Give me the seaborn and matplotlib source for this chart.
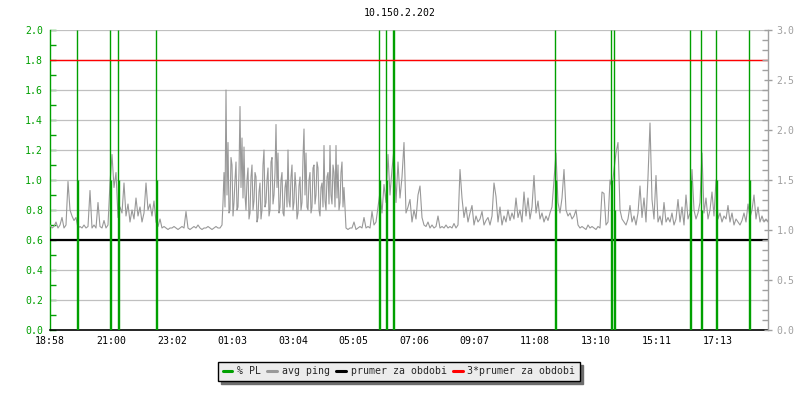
import numpy as np
import matplotlib
matplotlib.use("Agg")
import matplotlib.pyplot as plt
from matplotlib.lines import Line2D
from matplotlib.ticker import MultipleLocator, FormatStrFormatter
import seaborn as sns
import pandas as pd

# ---------------- data ----------------
title = "10.150.2.202"
tick_minutes = [0, 122, 244, 365, 486, 607, 728, 849, 970, 1092, 1213, 1335]
tick_labels = ["18:58", "21:00", "23:02", "01:03", "03:04", "05:05",
               "07:06", "09:07", "11:08", "13:10", "15:11", "17:13"]
x_end = 1436

# avg ping, evening part: one sample every 4 minutes from minute 0
ping_evening = [
    0.70, 0.68, 0.69, 0.72, 0.68, 0.70, 0.75, 0.68, 0.70, 0.99, 0.80, 0.76, 0.73, 0.75,
    0.68, 0.69, 0.68, 0.70, 0.68, 0.69, 0.93, 0.68, 0.70, 0.68, 0.85, 0.69, 0.68, 0.73, 0.68, 0.70,
    0.98, 1.17, 0.95, 1.05,
    0.75,
    0.82, 0.78, 0.98, 0.76, 0.84, 0.72, 0.80, 0.74, 0.88, 0.76, 0.82, 0.72, 0.78, 0.98, 0.80, 0.84, 0.76, 0.86,
    0.72, 0.69, 0.74, 0.68, 0.69, 0.68, 0.67, 0.68, 0.68, 0.69, 0.68, 0.67, 0.68, 0.69, 0.68, 0.79,
    0.68, 0.67, 0.68, 0.69, 0.68, 0.70, 0.68, 0.67, 0.68, 0.68, 0.69, 0.68, 0.67, 0.68, 0.69, 0.68, 0.68,
]
# busy night part: one sample every 2 minutes from minute 344
ping_busy = [
    0.70, 0.85, 1.05, 0.82, 1.60, 0.90, 1.25, 0.78, 0.80, 1.15, 1.10, 0.76, 0.85, 1.00, 1.12, 0.80,
    0.82, 1.05, 1.49, 0.95, 1.28, 0.88, 1.22, 0.90, 0.80, 1.00, 1.08, 0.74, 0.78, 1.02, 1.10, 0.80,
    0.86, 1.05, 1.02, 0.72, 0.75, 0.92, 0.98, 0.74, 0.80, 1.10, 1.20, 0.82, 0.85, 1.00, 1.08, 0.76,
    0.80, 1.12, 1.15, 0.84, 0.90, 1.05, 1.37, 0.95, 1.18, 0.78, 0.82, 1.00, 1.05, 0.78, 0.76, 0.95,
    1.00, 0.82, 1.20, 0.86, 0.82, 1.02, 1.10, 0.80, 0.85, 1.05, 0.95, 0.74, 0.78, 0.96, 1.02, 0.80,
    0.85, 1.15, 1.34, 0.90, 1.18, 0.82, 0.80, 1.00, 1.05, 0.78, 0.82, 1.08, 1.10, 0.84, 0.90, 1.12,
    1.08, 0.80, 0.76, 0.95, 0.98, 0.82, 1.23, 0.86, 0.80, 1.02, 1.05, 0.84, 1.23, 0.90, 0.84, 1.10,
    1.05, 0.82, 1.23, 0.88, 1.10, 0.80, 0.85, 1.05, 1.12, 0.82, 0.95,
]
# morning/day part: one sample every 4 minutes from minute 592
ping_day = [
    0.68, 0.67, 0.68, 0.68, 0.72, 0.67, 0.68, 0.69, 0.68, 0.75, 0.68, 0.69, 0.68, 0.79, 0.70, 0.72,
    0.82, 0.92, 0.78, 0.97, 0.85, 1.17, 0.90, 1.07, 1.21, 0.85, 1.12, 0.88, 1.02, 1.25, 0.78, 0.82,
    0.87, 0.72, 0.80, 0.74, 0.90, 0.96, 0.75, 0.70,
    0.69, 0.72, 0.68, 0.70, 0.68, 0.69, 0.76, 0.68, 0.69, 0.68, 0.70, 0.68, 0.69, 0.68, 0.71, 0.68,
    0.70, 1.07,
    0.88, 0.75, 0.82, 0.72, 0.78, 0.83, 0.70, 0.76, 0.72, 0.74, 0.79, 0.70, 0.73, 0.75, 0.70, 0.76,
    0.98, 0.89, 0.72, 0.82, 0.70, 0.76, 0.72, 0.80, 0.73, 0.78, 0.74, 0.88, 0.75, 0.80, 0.72, 0.92,
    0.76, 0.88, 0.74, 0.82, 1.03, 0.78, 0.86, 0.74, 0.78, 0.72, 0.76, 0.73,
    0.78, 0.82, 1.00, 1.18, 0.85, 0.78, 0.88, 1.07, 0.80, 0.76, 0.78, 0.74, 0.76, 0.80, 0.70, 0.68,
    0.69, 0.68, 0.67, 0.70, 0.68, 0.69, 0.68, 0.67, 0.69, 0.68, 0.92, 0.91, 0.70, 0.72, 1.00, 0.95,
    1.07,
    1.18, 1.25, 0.80, 0.74, 0.72, 0.70, 0.74, 0.83, 0.72, 0.76, 0.70, 0.78, 0.96, 0.75, 0.88, 0.72,
    1.02, 1.38, 0.87, 0.74, 1.03, 0.72, 0.76, 0.70, 0.85, 0.72, 0.75,
    0.72, 0.78, 0.70, 0.74, 0.87, 0.72, 0.82, 0.70, 0.90, 0.74, 0.78, 1.07, 0.80, 0.74, 0.78, 0.85,
    1.18, 0.78, 0.88, 0.74, 0.80, 0.92, 0.76, 1.00, 0.74, 0.78, 0.72, 0.76, 0.74, 0.83, 0.72, 0.78,
    0.70, 0.74, 0.72, 0.70, 0.73, 0.78, 0.72, 0.84, 0.75, 0.80, 0.90, 0.74, 0.82, 0.72, 0.76, 0.72,
    0.74, 0.72,
]
ping_minutes = ([4 * i for i in range(len(ping_evening))]
                + [344 + 2 * i for i in range(len(ping_busy))]
                + [592 + 4 * i for i in range(len(ping_day))])
ping = ping_evening + ping_busy + ping_day

# packet loss events (minute, value on left axis)
pl_minutes = [54, 56, 120, 122, 136, 138, 212, 214, 658, 660, 672, 674, 686, 688,
              1010, 1012, 1122, 1124, 1128, 1130, 1280, 1282, 1302, 1304, 1332, 1334, 1398, 1400]
pl_values = [2.0, 1.0, 2.0, 1.0, 2.0, 1.0, 2.0, 1.0, 2.0, 1.0, 2.0, 1.0, 2.0, 2.0,
             2.0, 1.0, 2.0, 1.0, 2.0, 0.8, 2.0, 1.0, 2.0, 0.8, 2.0, 1.0, 2.0, 1.0]

avg_level = 0.6
triple_avg = 1.8

# ---------------- style ----------------
sns.set_style("white")
plt.rcParams["font.family"] = ["DejaVu Sans Mono"]
FS = 7.1
GREEN = "#00a000"
GRAY = "#999999"
AXGRAY = "#a0a0a0"

fig = plt.figure(figsize=(8, 4), dpi=100)
ax = fig.add_axes([50 / 800, 70 / 400, 718 / 800, 300 / 400])
ax.set_facecolor("white")

df = pd.DataFrame({"minute": ping_minutes, "ping": ping})
sns.lineplot(data=df, x="minute", y="ping", ax=ax, color=GRAY, lw=0.8, zorder=3)

ax.axhline(avg_level, color="black", lw=1.6, zorder=4)
ax.vlines(pl_minutes, 0, pl_values, color=GREEN, lw=1.0, zorder=5)
ax.axhline(triple_avg, color="#ff0000", lw=1.0, zorder=6)

ax.set_xlim(0, x_end)
ax.set_ylim(0, 2.0)
ax.set_xlabel("")
ax.set_ylabel("")

# grid
for v in np.arange(0.2, 2.01, 0.2):
    ax.axhline(v, color="#c0c0c0", lw=0.9, zorder=1)

ax.yaxis.set_major_locator(MultipleLocator(0.2))
ax.yaxis.set_minor_locator(MultipleLocator(0.1))
ax.yaxis.set_major_formatter(FormatStrFormatter("%.1f"))
ax.tick_params(axis="y", which="both", direction="in", colors=GREEN, labelsize=FS, pad=5)
ax.tick_params(axis="y", which="major", length=4, width=1)
ax.tick_params(axis="y", which="minor", length=4, width=1)

ax.set_xticks(tick_minutes)
ax.set_xticklabels(tick_labels)
ax.tick_params(axis="x", direction="in", length=5, width=1, colors="black",
               labelsize=FS, pad=4)

ax.spines["top"].set_visible(False)
ax.spines["left"].set_color(GREEN)
ax.spines["left"].set_linewidth(1)
ax.spines["bottom"].set_color("black")
ax.spines["bottom"].set_linewidth(1.2)
ax.spines["right"].set_visible(False)

ax2 = ax.twinx()
ax2.set_ylim(0, 3.0)
ax2.yaxis.set_major_locator(MultipleLocator(0.5))
ax2.yaxis.set_minor_locator(MultipleLocator(0.1))
ax2.yaxis.set_major_formatter(FormatStrFormatter("%.1f"))
ax2.tick_params(axis="y", which="major", direction="inout", length=6, width=1,
                colors=AXGRAY, labelsize=FS, pad=3)
ax2.tick_params(axis="y", which="minor", direction="in", length=4, width=1, colors=AXGRAY)
for s in ["top", "left", "bottom"]:
    ax2.spines[s].set_visible(False)
ax2.spines["right"].set_color(AXGRAY)
ax2.spines["right"].set_linewidth(1)

fig.text(0.5, 1 - 13 / 400, title, ha="center", va="center", fontsize=FS, color="black")

handles = [
    Line2D([], [], color=GREEN, lw=2.2),
    Line2D([], [], color=GRAY, lw=2.2),
    Line2D([], [], color="black", lw=2.2),
    Line2D([], [], color="#ff0000", lw=2.2),
]
labels = ["% PL", "avg ping", "prumer za obdobi", "3*prumer za obdobi"]
leg = fig.legend(handles, labels, loc="center", bbox_to_anchor=(399 / 800, 1 - 371.5 / 400),
                 ncol=4, fontsize=FS, frameon=True, fancybox=False,
                 shadow={"color": "#6e6e6e", "alpha": 1.0},
                 handlelength=1.0, handletextpad=0.5, columnspacing=0.6,
                 borderpad=0.45, borderaxespad=0)
leg.get_frame().set_facecolor("#ececec")
leg.get_frame().set_edgecolor("black")
leg.get_frame().set_linewidth(1.0)
leg.get_frame().set_alpha(1.0)

fig.savefig("out.png", dpi=100, facecolor="white")
